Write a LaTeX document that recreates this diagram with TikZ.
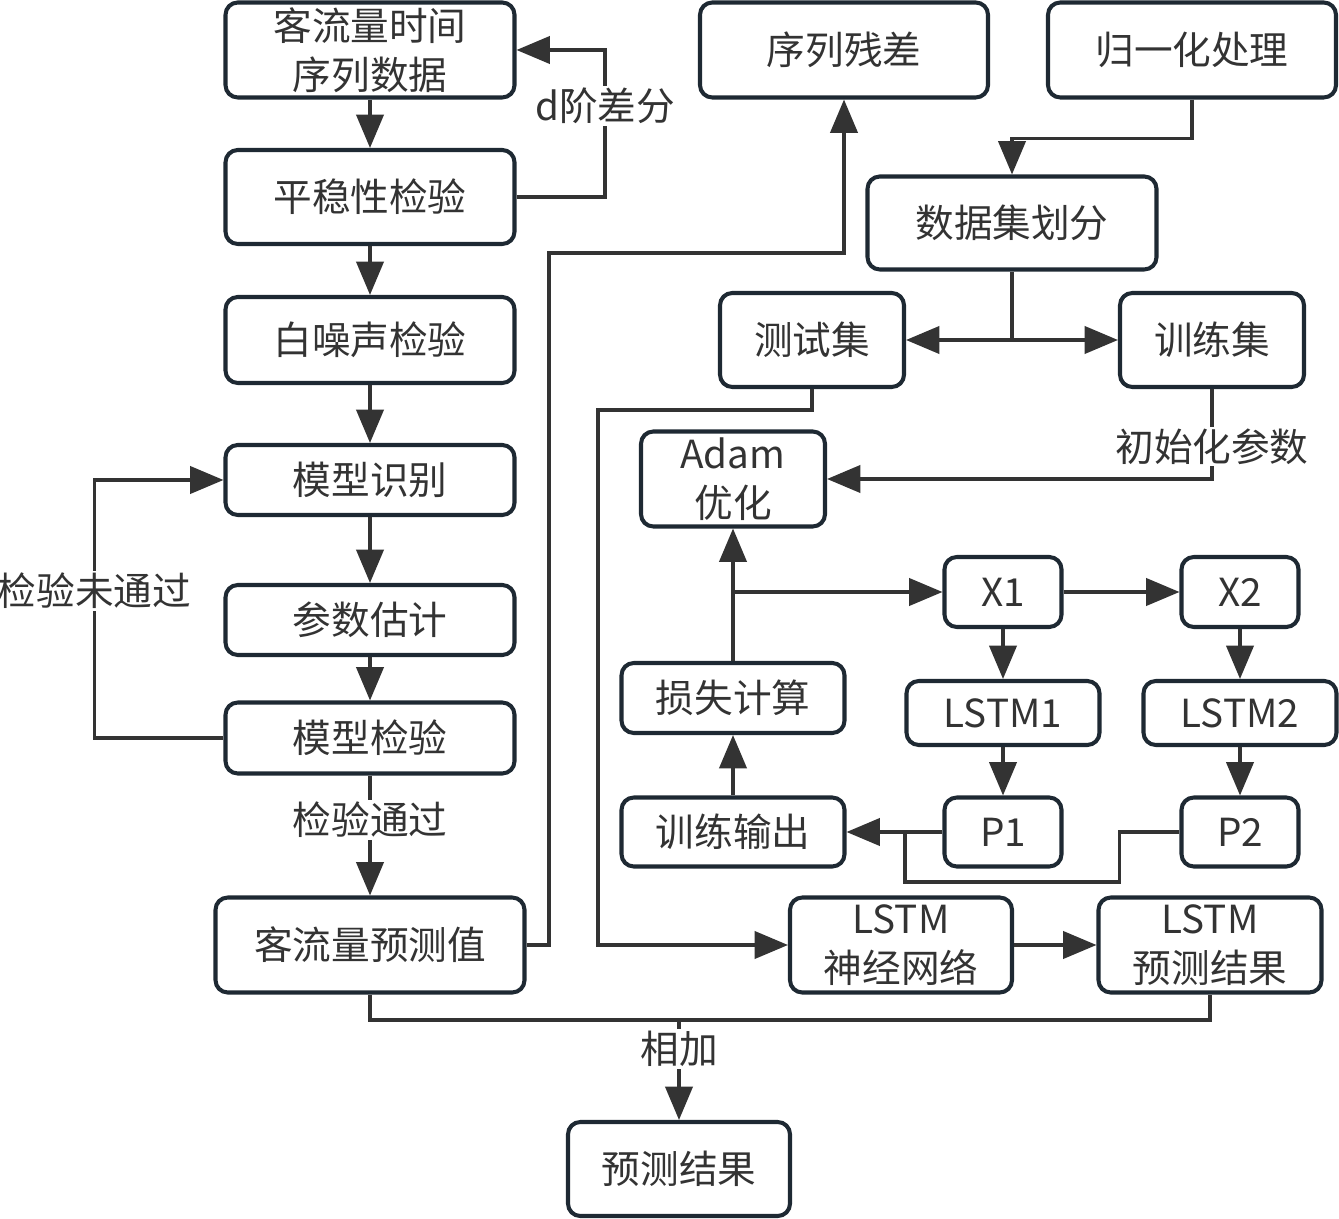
\documentclass[tikz,border=0pt]{standalone}
\usepackage{fontspec}
\setmainfont{Noto Sans CJK SC}
\usepackage{tikz}
\usetikzlibrary{arrows.meta,positioning}
\definecolor{edge}{HTML}{1E2933}
\definecolor{ink}{HTML}{333333}

\begin{document}
\begin{tikzpicture}[
  x=0.02cm,y=-0.02cm,
  b/.style={draw=edge,line width=2.3pt,rounded corners=7pt,align=center,
    text=ink,font=\fontsize{22pt}{28pt}\selectfont,inner sep=0pt},
  bw/.style={minimum width=#1*0.02cm},
  bh/.style={minimum height=#1*0.02cm},
  a/.style={-{Triangle[length=19pt,width=15.5pt]},line width=1.9pt,draw=ink},
  l/.style={line width=1.9pt,draw=ink},
  lab/.style={fill=white,text=ink,font=\fontsize{22pt}{28pt}\selectfont,
    inner sep=1pt}
]
\useasboundingbox (0,0) rectangle (1339,1219);
% ARIMA column
\node[b,bw=289,bh=95] (series) at (370,50) {客流量时间\\序列数据};
\node[b,bw=289,bh=94] (stat) at (370,197) {平稳性检验};
\node[b,bw=289,bh=86] (noise) at (370,340) {白噪声检验};
\node[b,bw=289,bh=70] (ident) at (370,480) {模型识别};
\node[b,bw=289,bh=70] (param) at (370,620) {参数估计};
\node[b,bw=289,bh=71] (check) at (370,738) {模型检验};
\node[b,bw=309,bh=95] (arima) at (370,945) {客流量预测值};
\node[b,bw=222,bh=94] (final) at (679,1169) {预测结果};
% LSTM part
\node[b,bw=288,bh=95] (resid) at (844,50) {序列残差};
\node[b,bw=288,bh=95] (norm) at (1192,50) {归一化处理};
\node[b,bw=289,bh=93] (split) at (1012,223) {数据集划分};
\node[b,bw=184,bh=94] (test) at (812,340) {测试集};
\node[b,bw=184,bh=94] (train) at (1212,340) {训练集};
\node[b,bw=184,bh=95] (adam) at (733,479) {Adam\\优化};
\node[b,bw=117,bh=70] (xa) at (1003,592) {X1};
\node[b,bw=117,bh=70] (xb) at (1240,592) {X2};
\node[b,bw=223,bh=70] (loss) at (733,698) {损失计算};
\node[b,bw=193,bh=64] (lstma) at (1003,713) {LSTM1};
\node[b,bw=193,bh=64] (lstmb) at (1240,713) {LSTM2};
\node[b,bw=223,bh=69] (out) at (733,832) {训练输出};
\node[b,bw=117,bh=69] (pa) at (1003,832) {P1};
\node[b,bw=117,bh=69] (pb) at (1240,832) {P2};
\node[b,bw=222,bh=95] (net) at (901,945) {LSTM\\神经网络};
\node[b,bw=223,bh=95] (pred) at (1210,945) {LSTM\\预测结果};

\coordinate (fork) at (1012,340);
\coordinate (sum) at (679,1020);

\draw[a] (series) -- (stat);
\draw[a] (stat.east) -| node[lab,pos=0.81]{d阶差分} (605,50) -- (series.east);
\draw[a] (stat) -- (noise);
\draw[a] (noise) -- (ident);
\draw[a] (ident) -- (param);
\draw[a] (param) -- (check);
\draw[a] (check.west) -- ++(-129,0) -- node[lab,pos=0.57]{检验未通过} ++(0,-258)
  -- (ident.west);
\draw[a] (check) -- node[lab,pos=0.37]{检验通过} (arima);
\draw[a] (arima.east) -- (549,945) |- (844,253) -- (resid.south);

\draw[a] (norm.south) -- ++(0,39) -| (split.north);
\draw[l] (split.south) -- (fork);
\draw[a] (fork) -- (test.east);
\draw[a] (fork) -- (train.west);
\draw[a] (test.south) -- ++(0,21) -| (598,945) -- (net.west);
\draw[a] (train.south) |- node[lab,pos=0.32]{初始化参数} (adam.east);
\draw[a] (out) -- (loss);
\draw[a] (loss) -- (adam);
\draw[a] (loss.north |- xa) -- (xa);
\draw[a] (xa) -- (xb);
\draw[a] (xa) -- (lstma);
\draw[a] (lstma) -- (pa);
\draw[a] (xb) -- (lstmb);
\draw[a] (lstmb) -- (pb);
\draw[a] (pa) -- (out);
\draw[l] (pb.west) -- ++(-60,0) -- ++(0,50) -| (905,832);
\draw[a] (net) -- (pred);
\draw[l] (arima.south) -- (arima.south |- sum) -| (pred.south);
\draw[a] (sum) -- node[lab,pos=0.29]{相加} (final);
\end{tikzpicture}
\end{document}
